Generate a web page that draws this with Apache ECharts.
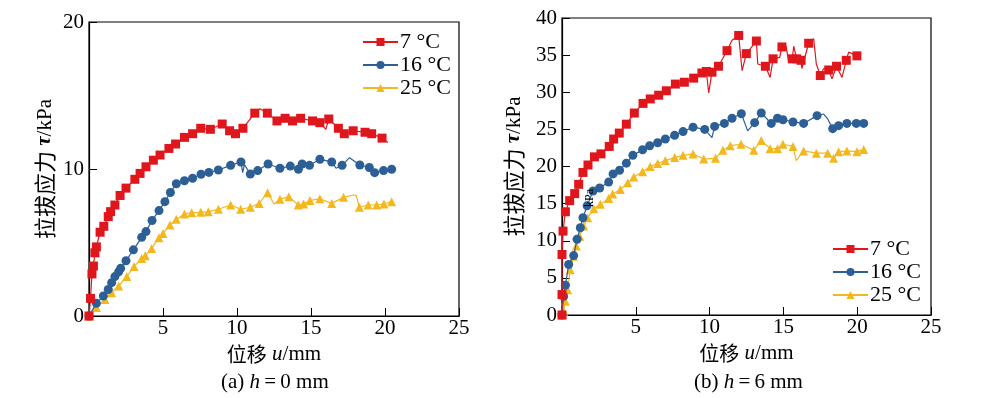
<!DOCTYPE html>
<html>
<head>
<meta charset="utf-8">
<script src="https://cdn.jsdelivr.net/npm/echarts@6/dist/echarts.min.js"></script>
<style>
    html, body { margin: 0; padding: 0; background: #fff; }
    #chart { width: 1000px; height: 398px; }
</style>
</head>
<body>
<div id="chart"></div>
<script>
// series names / tick values
const seriesNames = ["7 °C", "16 °C", "25 °C"];
const xTicks = [0, 5, 10, 15, 20, 25];

// (a) h = 0 mm : marker points [u, tau]
const h0_7C = [[0, 0], [0.1, 1.2], [0.2, 2.86], [0.3, 3.4], [0.4, 4.3], [0.5, 4.7], [0.75, 5.7], [1.0, 6.1], [1.3, 6.76], [1.46, 7.1],
    [1.75, 7.55], [2.1, 8.2], [2.5, 8.7], [3.1, 9.3], [3.45, 9.7], [3.85, 10.15], [4.35, 10.6], [4.8, 10.95], [5.4, 11.4], [5.85, 11.7],
    [6.45, 12.15], [7.0, 12.4], [7.55, 12.77], [8.2, 12.7], [9.0, 13.06], [9.5, 12.6], [9.9, 12.4], [10.4, 12.77], [11.2, 13.8], [12.05, 13.8],
    [12.7, 13.27], [13.25, 13.45], [13.75, 13.27], [14.3, 13.45], [15.1, 13.27], [15.6, 13.15], [16.2, 13.4], [16.85, 12.77], [17.25, 12.4],
    [17.85, 12.6], [18.65, 12.5], [19.1, 12.4], [19.8, 12.1]];
const h0_16C = [[0, 0], [0.5, 0.86], [0.97, 1.36], [1.3, 1.8], [1.53, 2.27], [1.75, 2.68], [2.0, 3.0], [2.14, 3.24], [2.5, 3.76], [3.0, 4.5],
    [3.56, 5.35], [3.85, 5.74], [4.26, 6.5], [4.73, 7.17], [5.13, 7.78], [5.5, 8.4], [5.9, 9.0], [6.45, 9.2], [7.0, 9.37], [7.57, 9.64],
    [8.1, 9.77], [8.74, 9.93], [9.57, 10.25], [10.27, 10.48], [10.9, 9.66], [11.4, 9.89], [12.1, 10.34], [12.9, 10.05], [13.6, 10.2],
    [14.15, 9.98], [14.4, 10.34], [14.9, 10.25], [15.6, 10.66], [16.4, 10.48], [17.1, 10.25], [18.3, 10.27], [18.94, 10.1], [19.3, 9.75],
    [19.9, 9.89], [20.45, 9.98]];
const h0_25C = [[0, 0], [0.5, 0.57], [1.08, 1.13], [1.53, 1.59], [2.0, 2.04], [2.55, 2.68], [3.04, 3.36], [3.56, 3.92], [3.8, 4.1], [4.23, 4.6],
    [4.73, 5.33], [5.0, 5.62], [5.47, 6.19], [5.9, 6.58], [6.45, 6.94], [6.94, 7.03], [7.55, 7.05], [8.06, 7.1], [8.74, 7.26], [9.57, 7.55],
    [10.25, 7.26], [10.9, 7.4], [11.5, 7.66], [12.07, 8.39], [12.9, 7.94], [13.5, 8.12], [14.14, 7.55], [14.5, 7.62], [14.93, 7.85],
    [15.6, 7.98], [16.4, 7.66], [17.2, 8.07], [18.27, 7.4], [18.87, 7.55], [19.44, 7.55], [19.93, 7.62], [20.45, 7.78]];
// (a) line-only points (noise between markers)
const h0_7C_line = [[11.55, 14.1], [16.0, 12.7], [20.2, 11.8]];
const h0_16C_line = [[10.38, 9.75], [10.5, 10.3], [16.69, 10.05], [17.6, 10.77]];
const h0_25C_line = [[12.5, 7.62], [17.86, 8.23], [18.05, 8.2]];

// (b) h = 6 mm : marker points [u, tau]
const h6_7C = [[0, 0], [0, 2.75], [0, 8.15], [0.07, 11.3], [0.23, 13.9], [0.52, 15.4], [0.86, 16.35], [1.13, 17.6], [1.42, 19.2], [1.76, 20.2],
    [2.2, 21.3], [2.64, 21.7], [3.2, 22.7], [3.5, 23.7], [3.88, 24.5], [4.36, 25.7], [4.9, 27.2], [5.49, 28.5], [5.98, 29.1], [6.55, 29.6],
    [7.07, 30.2], [7.68, 31.1], [8.29, 31.35], [8.92, 31.9], [9.48, 32.6], [9.78, 32.8], [10.16, 32.7], [10.6, 33.5], [11.18, 35.6],
    [11.97, 37.65], [12.49, 35.2], [13.17, 36.9], [13.78, 33.5], [14.3, 34.5], [14.9, 36.1], [15.6, 34.5], [15.9, 34.5], [16.2, 34.3],
    [16.71, 36.6], [17.5, 32.25], [18.07, 33.0], [18.6, 33.5], [19.26, 34.3], [19.98, 34.9]];
const h6_16C = [[0, 0], [0.11, 2.5], [0.23, 4.0], [0.45, 6.8], [0.79, 8.0], [1.02, 10.2], [1.24, 11.75], [1.42, 13.1], [1.7, 14.7], [2.1, 16.7],
    [2.55, 17.1], [3.16, 17.9], [3.46, 19.0], [3.9, 19.5], [4.36, 20.45], [4.8, 21.5], [5.46, 22.25], [5.94, 22.8], [6.48, 23.2], [7.0, 23.7],
    [7.63, 24.2], [8.2, 24.7], [8.88, 25.3], [9.67, 25.0], [10.34, 25.4], [11.0, 25.8], [11.52, 26.5], [12.15, 27.1], [13.05, 25.9],
    [13.5, 27.2], [14.18, 25.8], [14.6, 26.5], [14.97, 26.3], [15.65, 26.0], [16.37, 25.8], [17.28, 26.85], [18.34, 25.1], [18.74, 25.5],
    [19.3, 25.8], [19.94, 25.8], [20.44, 25.8]];
const h6_25C = [[0, 0], [0.11, 0.5], [0.23, 1.85], [0.38, 3.4], [0.56, 6.1], [0.79, 7.9], [0.97, 9.3], [1.2, 10.6], [1.47, 12.0], [1.74, 13.1],
    [2.15, 14.3], [2.6, 14.9], [3.16, 15.7], [3.43, 16.3], [3.95, 16.9], [4.45, 17.8], [4.86, 18.6], [5.46, 19.3], [5.98, 20.0], [6.48, 20.4],
    [7.0, 20.8], [7.63, 21.2], [8.2, 21.5], [8.88, 21.7], [9.6, 21.0], [10.4, 21.1], [10.9, 22.2], [11.4, 22.8], [12.13, 23.0], [12.99, 22.2],
    [13.5, 23.5], [14.1, 22.4], [14.6, 22.4], [14.97, 23.0], [15.65, 22.7], [16.37, 22.1], [17.23, 21.8], [18.0, 21.8], [18.4, 21.1],
    [18.74, 22.0], [19.3, 22.1], [19.98, 22.0], [20.44, 22.3]];
// (b) line-only points
const h6_7C_line = [[9.94, 29.9], [11.52, 37.0], [12.2, 32.9], [13.26, 33.8], [14.1, 32.0], [14.75, 34.7], [15.18, 36.2], [15.36, 34.1],
    [15.7, 36.2], [16.25, 33.2], [17.05, 37.2], [17.23, 33.8], [17.73, 33.2], [18.29, 31.8], [18.97, 32.0], [19.42, 35.4]];
const h6_16C_line = [[10.16, 23.9], [12.58, 24.8], [17.73, 27.07], [18.0, 26.4]];
const h6_25C_line = [[15.87, 20.8]];

const colors = ["#e0161d", "#2c5f95", "#f4b81f"];
const symbols = ["rect", "circle", "triangle"];
const serif = "'Liberation Serif', 'Times New Roman', 'Noto Sans CJK SC', serif";
const cjk = "'Noto Sans CJK SC', serif";

function merge(marks, extra) {
    return marks.map(p => ({ value: p }))
        .concat(extra.map(p => ({ value: p, symbol: "none" })))
        .sort((a, b) => a.value[0] - b.value[0]);
}

function makeSeries(i, grid, marks, extra) {
    return {
        name: seriesNames[i],
        type: "line",
        xAxisIndex: grid,
        yAxisIndex: grid,
        data: merge(marks, extra),
        symbol: symbols[i],
        symbolSize: 9,
        lineStyle: { width: 1.2, color: colors[i] },
        itemStyle: { color: colors[i] },
        animation: false,
        z: 3 - i,
    };
}

function xAxis(grid) {
    return {
        type: "value", gridIndex: grid, min: 0, max: 25, interval: 5,
        name: "{c|位移} {i|u}/mm", nameLocation: "middle", nameGap: 28,
        nameTextStyle: { fontFamily: serif, fontSize: 21, color: "#000",
            rich: {
                c: { fontFamily: cjk, fontSize: 20, color: "#000" },
                i: { fontStyle: "italic", fontFamily: serif, fontSize: 21, color: "#000" },
            } },
        axisLine: { lineStyle: { color: "#000", width: 1.2 } },
        axisTick: { inside: true, length: 8, lineStyle: { color: "#000" } },
        axisLabel: { showMinLabel: false, color: "#000", fontFamily: serif, fontSize: 21, margin: 2 },
        splitLine: { show: false },
    };
}

function yAxis(grid, max, interval, gap) {
    return {
        type: "value", gridIndex: grid, min: 0, max: max, interval: interval,
        name: "{c|拉拔应力} {b|τ}/kPa", nameLocation: "middle", nameGap: gap,
        nameTextStyle: { fontFamily: serif, fontSize: 21, color: "#000",
            rich: {
                c: { fontFamily: cjk, fontSize: 22, color: "#000" },
                b: { fontStyle: "italic", fontWeight: "bold", fontFamily: serif, fontSize: 21, color: "#000" },
            } },
        axisLine: { lineStyle: { color: "#000", width: 1.2 } },
        axisTick: { inside: true, length: 8, lineStyle: { color: "#000" } },
        axisLabel: { color: "#000", fontFamily: serif, fontSize: 21, margin: 5 },
        splitLine: { show: false },
    };
}

function legend(left, top) {
    return {
        data: seriesNames, orient: "vertical", left: left, top: top,
        itemWidth: 35, itemHeight: 10, itemGap: 1,
        textStyle: { fontFamily: serif, fontSize: 22, color: "#000", padding: [0, 0, 0, -3] },
        selectedMode: false,
    };
}

const chart = echarts.init(document.getElementById("chart"), null, { renderer: "canvas" });
chart.setOption({
    animation: false,
    backgroundColor: "#fff",
    grid: [
        { left: 89, top: 22, width: 370, height: 294, show: true, borderColor: "#000", borderWidth: 1.2 },
        { left: 562, top: 18, width: 369, height: 297, show: true, borderColor: "#000", borderWidth: 1.2 },
    ],
    xAxis: [xAxis(0), xAxis(1)],
    yAxis: [yAxis(0, 20, 10, 33), yAxis(1, 40, 5, 37)],
    legend: [legend(357, 26), legend(827, 233)],
    series: [
        makeSeries(0, 0, h0_7C, h0_7C_line),
        makeSeries(1, 0, h0_16C, h0_16C_line),
        makeSeries(2, 0, h0_25C, h0_25C_line),
        makeSeries(0, 1, h6_7C, h6_7C_line),
        makeSeries(1, 1, h6_16C, h6_16C_line),
        makeSeries(2, 1, h6_25C, h6_25C_line),
    ],
    graphic: [
        {
            type: "text", top: 372, left: 221,
            style: { text: "(a) {i|h}\u2009=\u20090 mm", fontFamily: serif, fontSize: 21, fill: "#000",
                rich: { i: { fontStyle: "italic", fontFamily: serif, fontSize: 21 } } },
        },
        {
            type: "text", top: 372, left: 694,
            style: { text: "(b) {i|h}\u2009=\u20096 mm", fontFamily: serif, fontSize: 21, fill: "#000",
                rich: { i: { fontStyle: "italic", fontFamily: serif, fontSize: 21 } } },
        },
        {
            type: "text", x: 584, y: 207, rotation: Math.PI / 2, z: 100,
            style: { text: "kPa", fontFamily: serif, fontSize: 12, fill: "#000" },
        },
    ],
});
</script>
</body>
</html>
